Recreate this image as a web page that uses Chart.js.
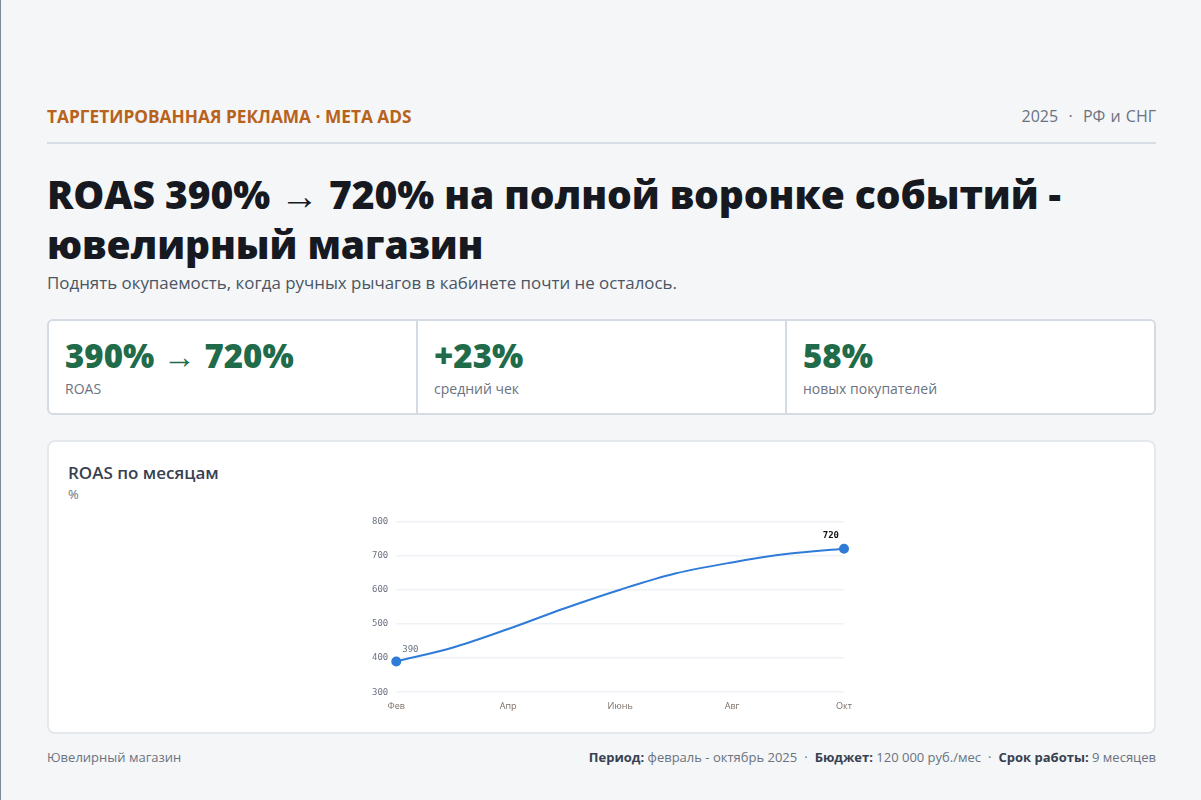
<!DOCTYPE html>
<html lang="ru">
<head>
<meta charset="utf-8">
<title>ROAS по месяцам</title>
<script src="https://cdn.jsdelivr.net/npm/chart.js@4.4.1/dist/chart.umd.min.js"></script>
<style>
    * { box-sizing: border-box; }
    html, body { margin: 0; padding: 0; }
    body {
        width: 1201px;
        height: 800px;
        overflow: hidden;
        background: #f4f6f8;
        border-left: 1px solid #7d8a9a;
        font-family: "Open Sans", "Noto Sans", sans-serif;
        color: #16191f;
    }
    .page {
        padding: 104px 0 0 46px;
        width: 1155px;
    }
    .top {
        display: flex;
        justify-content: space-between;
        align-items: center;
        height: 24px;
    }
    .kicker {
        font-size: 17.3px;
        font-weight: 700;
        color: #b8621b;
    }
    .meta {
        font-size: 16px;
        color: #6b7280;
        word-spacing: 1px;
    }
    .rule {
        margin-top: 14px;
        height: 2px;
        background: #d8dde5;
    }
    h1 {
        margin: 25px 0 0;
        font-size: 39px;
        font-weight: 800;
        line-height: 50px;
        letter-spacing: -0.1px;
    }
    .sub {
        margin-top: 2px;
        font-size: 16.9px;
        color: #4b5563;
        line-height: 24px;
    }
    .kpis {
        margin-top: 24px;
        display: flex;
        background: #fff;
        border: 2px solid #d5dbe3;
        border-radius: 6px;
        height: 96px;
    }
    .kpi {
        flex: 1;
        padding: 15px 0 0 16px;
        border-left: 2px solid #d5dbe3;
    }
    .kpi:first-child { border-left: none; }
    .kpi b {
        display: block;
        font-size: 33px;
        font-weight: 800;
        color: #1f6b4a;
        line-height: 40px;
    }
    .kpi span {
        display: block;
        font-size: 14px;
        color: #6b7280;
        line-height: 20px;
        margin-top: 3px;
    }
    .card {
        margin-top: 25px;
        background: #fff;
        border: 2px solid #e5e8ed;
        border-radius: 8px;
        height: 294px;
        padding: 20px 0 0 19px;
        position: relative;
    }
    .card h2 {
        margin: 0;
        font-size: 17px;
        font-weight: 600;
        color: #374151;
        line-height: 22px;
    }
    .card .unit {
        font-size: 13px;
        color: #6b7280;
        line-height: 20px;
    }
    .chart-box {
        position: absolute;
        left: 315px;
        top: 66px;
        width: 490px;
        height: 205px;
    }
    .foot {
        margin-top: 14px;
        display: flex;
        justify-content: space-between;
        font-size: 13px;
        color: #6b7280;
    }
    .foot b { color: #374151; font-weight: 700; }
    .foot .dot { padding: 0 7px; }
</style>
</head>
<body>
<div class="page">
    <div class="top">
        <div class="kicker">ТАРГЕТИРОВАННАЯ РЕКЛАМА · META ADS</div>
        <div class="meta">2025 &nbsp;·&nbsp; РФ и СНГ</div>
    </div>
    <div class="rule"></div>

    <h1>ROAS 390% → 720% на полной воронке событий - ювелирный магазин</h1>
    <div class="sub">Поднять окупаемость, когда ручных рычагов в кабинете почти не осталось.</div>

    <div class="kpis">
        <div class="kpi"><b>390% → 720%</b><span>ROAS</span></div>
        <div class="kpi"><b>+23%</b><span>средний чек</span></div>
        <div class="kpi"><b>58%</b><span>новых покупателей</span></div>
    </div>

    <div class="card">
        <h2>ROAS по месяцам</h2>
        <div class="unit">%</div>
        <div class="chart-box"><canvas id="roas-chart"></canvas></div>
    </div>

    <div class="foot">
        <div>Ювелирный магазин</div>
        <div><b>Период:</b> февраль - октябрь 2025<span class="dot">·</span><b>Бюджет:</b> 120 000 руб./мес<span class="dot">·</span><b>Срок работы:</b> 9 месяцев</div>
    </div>
</div>

<script>
    // ---------------------------------------------------------
    // Data
    // ---------------------------------------------------------
    const months = ["Фев", "Мар", "Апр", "Май", "Июнь", "Июль", "Авг", "Сен", "Окт"];
    const roasValues = [390, 430, 485, 545, 600, 648, 680, 705, 720];
    const yTicks = [300, 400, 500, 600, 700, 800];

    const monoFont = '"DejaVu Sans Mono", "Liberation Mono", monospace';
    const sansFont = '"Open Sans", "Noto Sans", sans-serif';

    // first / last point get a dot and a value label
    const lastIdx = roasValues.length - 1;

    const endLabels = {
        id: "endLabels",
        afterDatasetsDraw(chart) {
            const ctx = chart.ctx;
            const pts = chart.getDatasetMeta(0).data;
            ctx.save();
            ctx.textBaseline = "middle";

            const first = pts[0];
            ctx.font = "9px " + monoFont;
            ctx.fillStyle = "#6b7280";
            ctx.textAlign = "left";
            ctx.fillText(String(roasValues[0]), first.x + 6, first.y - 12);

            const last = pts[lastIdx];
            ctx.font = "bold 9px " + monoFont;
            ctx.fillStyle = "#111111";
            ctx.textAlign = "right";
            ctx.fillText(String(roasValues[lastIdx]), last.x - 5, last.y - 13);

            ctx.restore();
        },
    };

    new Chart(document.getElementById("roas-chart"), {
        type: "line",
        data: {
            labels: months,
            datasets: [
                {
                    label: "ROAS",
                    data: roasValues,
                    borderColor: "#2f7bd8",
                    backgroundColor: "#2f7bd8",
                    borderWidth: 2,
                    cubicInterpolationMode: "monotone",
                    fill: false,
                    pointRadius: (c) => (c.dataIndex === 0 || c.dataIndex === lastIdx ? 4 : 0),
                    pointHoverRadius: 4,
                },
            ],
        },
        plugins: [endLabels],
        options: {
            responsive: true,
            maintainAspectRatio: false,
            animation: false,
            layout: { padding: { top: 6, right: 10, left: 0, bottom: 0 } },
            plugins: {
                legend: { display: false },
                tooltip: { enabled: false },
            },
            scales: {
                x: {
                    grid: { display: false },
                    border: { display: false },
                    ticks: {
                        autoSkip: false,
                        maxRotation: 0,
                        color: "#7b6e66",
                        font: { family: sansFont, size: 9 },
                        padding: 1,
                        callback: function (v, i) {
                            return i % 2 === 0 ? this.getLabelForValue(v) : "";
                        },
                    },
                },
                y: {
                    min: yTicks[0],
                    max: yTicks[yTicks.length - 1],
                    grid: { color: "#eef1f5", lineWidth: 1.5, drawTicks: false },
                    border: { display: false },
                    afterBuildTicks: (axis) => {
                        axis.ticks = yTicks.map((v) => ({ value: v }));
                    },
                    ticks: {
                        color: "#6b7280",
                        font: { family: monoFont, size: 9 },
                        padding: 8,
                    },
                },
            },
        },
    });
</script>
</body>
</html>
